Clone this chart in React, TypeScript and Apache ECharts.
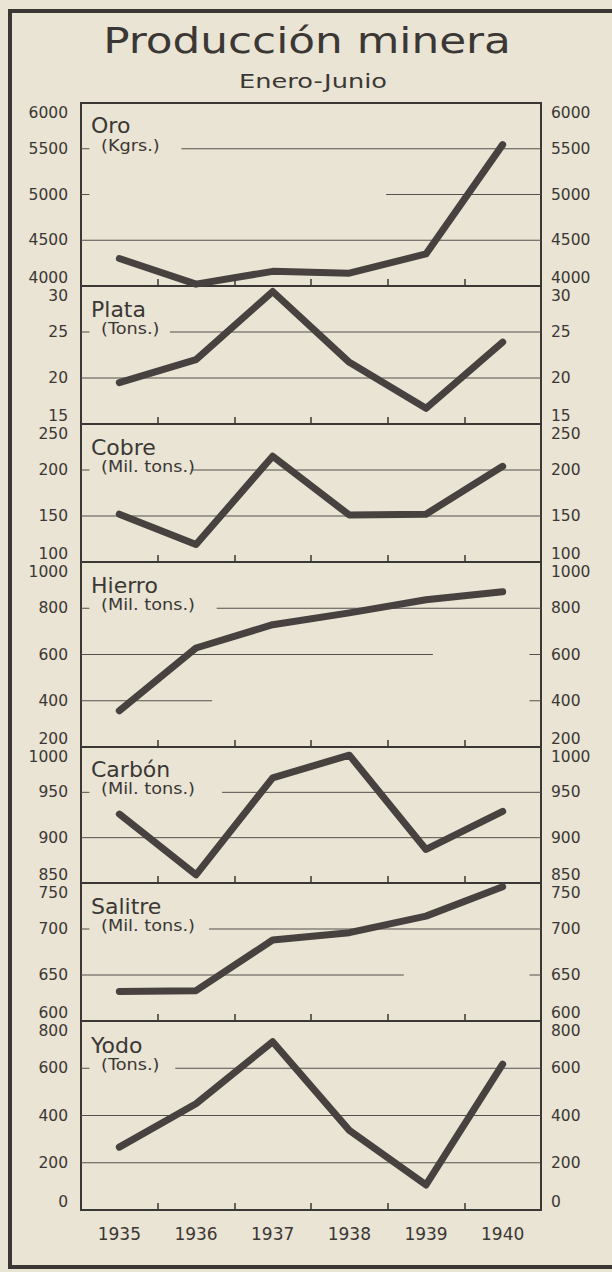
import React, { useEffect, useRef } from "react";
import * as echarts from "echarts";

// ---------- data ----------
const years = ["1935", "1936", "1937", "1938", "1939", "1940"];

const oroKg = [4300, 4020, 4160, 4140, 4350, 5545];
const plataTons = [19.5, 22, 29.4, 21.7, 16.7, 23.9];
const cobreMilTons = [152, 119, 215, 151, 152, 204];
const hierroMilTons = [357, 628, 729, 780, 837, 871];
const carbonMilTons = [926, 859, 966, 991, 887, 929];
const salitreMilTons = [632, 633, 688, 696, 714, 746];
const yodoTons = [266, 450, 712, 337, 106, 617];

const panelNames = ["Oro", "Plata", "Cobre", "Hierro", "Carbón", "Salitre", "Yodo"];
const panelUnits = [
  "(Kgrs.)",
  "(Tons.)",
  "(Mil. tons.)",
  "(Mil. tons.)",
  "(Mil. tons.)",
  "(Mil. tons.)",
  "(Tons.)",
];
const axisMin = [4000, 15, 100, 200, 850, 600, 0];
const axisMax = [6000, 30, 250, 1000, 1000, 750, 800];
const axisStep = [500, 5, 50, 200, 50, 50, 200];
const seriesValues = [
  oroKg,
  plataTons,
  cobreMilTons,
  hierroMilTons,
  carbonMilTons,
  salitreMilTons,
  yodoTons,
];

const titleText = "Producción minera";
const subtitleText = "Enero-Junio";

// ---------- layout / style ----------
const PAPER = "#e9e4d3";
const INK = "#3b3735";
const GRIDC = "#55504d";
const LINEC = "#474240";
const FONT = "DejaVu Sans";
const PLOT_LEFT = 81;
const PLOT_WIDTH = 460;
const panelEdges = [103, 286, 424, 562, 747, 883, 1021, 1210];

// gridline pieces: [level from top, [[from, to] in category-widths]]
const gridPieces: [number, [number, number][]][][] = [
  [
    [1, [[0, 0.11], [1.31, 6]]],
    [2, [[0, 0.11], [3.98, 6]]],
    [3, [[0, 6]]],
  ],
  [
    [1, [[0, 0.11], [1.16, 6]]],
    [2, [[0, 6]]],
  ],
  [
    [1, [[0, 0.11], [1.43, 6]]],
    [2, [[0, 6]]],
  ],
  [
    [1, [[0, 0.11], [1.77, 6]]],
    [2, [[0, 4.59], [5.85, 6]]],
    [3, [[0, 1.71], [5.85, 6]]],
  ],
  [
    [1, [[0, 0.11], [1.84, 6]]],
    [2, [[0, 6]]],
  ],
  [
    [1, [[0, 0.11], [1.67, 6]]],
    [2, [[0, 4.21], [5.85, 6]]],
  ],
  [
    [1, [[0, 0.11], [1.23, 6]]],
    [2, [[0, 6]]],
    [3, [[0, 6]]],
  ],
];

function labelStyle(min: number, max: number, margin: number) {
  const base = { fontSize: 15.5, fontFamily: FONT, color: INK, lineHeight: 15 };
  return {
    show: true,
    margin,
    ...base,
    formatter: (v: number) =>
      v === max ? `{hi|${v}}` : v === min ? `{lo|${v}}` : `{mid|${v}}`,
    rich: {
      hi: { ...base, padding: [20, 0, 0, 0] },
      lo: { ...base, padding: [0, 0, 16, 0] },
      mid: { ...base },
    },
  };
}

function textEl(
  text: string,
  x: number,
  y: number,
  size: number,
  align: string,
  scaleX = 1
) {
  return {
    type: "text",
    x,
    y,
    scaleX,
    silent: true,
    style: {
      text,
      fill: INK,
      fontSize: size,
      fontFamily: FONT,
      align,
      verticalAlign: "middle",
      textAlign: align,
      textVerticalAlign: "middle",
    },
  };
}

function buildOption() {
  const grid: any[] = [];
  const xAxis: any[] = [];
  const yAxis: any[] = [];
  const series: any[] = [];
  const graphic: any[] = [];

  for (let i = 0; i < panelNames.length; i++) {
    const top = panelEdges[i];
    const bottom = panelEdges[i + 1];
    const min = axisMin[i];
    const max = axisMax[i];
    const step = axisStep[i];
    const last = i === panelNames.length - 1;

    grid.push({
      left: PLOT_LEFT,
      width: PLOT_WIDTH,
      top,
      height: bottom - top,
      show: true,
      borderColor: INK,
      borderWidth: 2,
      backgroundColor: "transparent",
    });

    xAxis.push({
      type: "category",
      gridIndex: i,
      data: years,
      boundaryGap: true,
      axisLine: { show: false },
      axisTick: {
        show: true,
        inside: true,
        length: 7,
        interval: 0,
        lineStyle: { color: INK, width: 1.5 },
      },
      axisLabel: last
        ? { show: true, interval: 0, fontSize: 17, fontFamily: FONT, color: INK, margin: 15 }
        : { show: false },
      splitLine: { show: false },
    });
    xAxis.push({ type: "value", gridIndex: i, min: 0, max: 6, show: false });

    const yBase = {
      type: "value",
      gridIndex: i,
      min,
      max,
      interval: step,
      axisLine: { show: false },
      axisTick: { show: false },
      splitLine: { show: false },
    };
    yAxis.push({ ...yBase, position: "left", axisLabel: labelStyle(min, max, 13) });
    yAxis.push({ ...yBase, position: "right", axisLabel: labelStyle(min, max, 10) });

    for (const [level, pieces] of gridPieces[i]) {
      const val = max - level * step;
      for (const [a, b] of pieces) {
        series.push({
          type: "line",
          xAxisIndex: 2 * i + 1,
          yAxisIndex: 2 * i,
          data: [
            [a, val],
            [b, val],
          ],
          symbol: "none",
          silent: true,
          z: 1,
          lineStyle: { color: GRIDC, width: 1 },
        });
      }
    }

    series.push({
      type: "line",
      name: panelNames[i],
      xAxisIndex: 2 * i,
      yAxisIndex: 2 * i,
      data: seriesValues[i],
      symbol: "none",
      silent: true,
      z: 3,
      lineStyle: { color: LINEC, width: 7, cap: "round", join: "round" },
    });

    const secondLineY = top + ((bottom - top) * step) / (max - min);
    graphic.push(textEl(panelNames[i], 91, secondLineY - 23, 22, "left"));
    graphic.push(textEl(panelUnits[i], 101, secondLineY - 3, 15, "left", 1.18));
  }

  // outer frame
  const frame = [
    [8, 11, 612, 11, 4],
    [10, 9, 10, 1269, 4],
    [8, 1267, 612, 1267, 4],
  ];
  for (const [x1, y1, x2, y2, w] of frame) {
    graphic.push({
      type: "line",
      silent: true,
      shape: { x1, y1, x2, y2 },
      style: { stroke: INK, lineWidth: w },
    });
  }

  graphic.push(textEl(titleText, 307, 41, 35, "center", 1.25));
  graphic.push(textEl(subtitleText, 313, 81, 19, "center", 1.35));

  return {
    animation: false,
    backgroundColor: PAPER,
    grid,
    xAxis,
    yAxis,
    series,
    graphic,
  };
}

export default function App() {
  const ref = useRef<HTMLDivElement>(null);
  useEffect(() => {
    const chart = echarts.init(ref.current as HTMLDivElement, null, {
      renderer: "svg",
      width: 612,
      height: 1272,
    });
    chart.setOption(buildOption() as any);
    return () => chart.dispose();
  }, []);
  return (
    <div
      ref={ref}
      style={{
        position: "absolute",
        left: 0,
        top: 0,
        width: 612,
        height: 1272,
        background: PAPER,
      }}
    />
  );
}
